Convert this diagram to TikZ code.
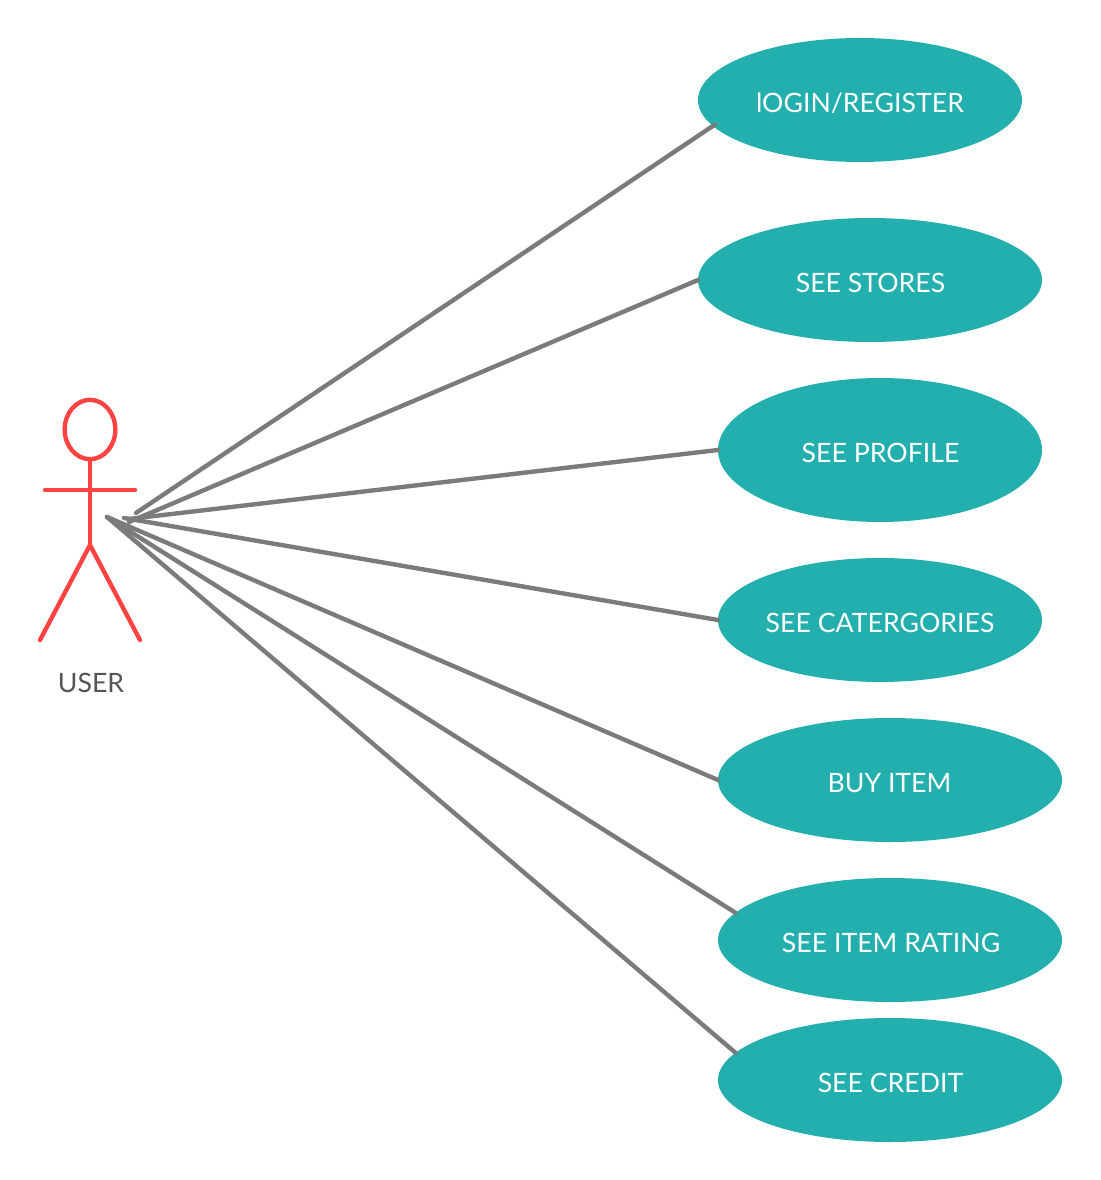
\documentclass[tikz,border=0pt]{standalone}
\usepackage{fontspec}
\setmainfont{Lato}
\usetikzlibrary{shapes.geometric}
\definecolor{teal1}{HTML}{23AFAE}
\definecolor{red1}{HTML}{FF4343}
\definecolor{gray1}{HTML}{7B7B7B}
\definecolor{txt1}{HTML}{555555}
\tikzset{
  usecase/.style={ellipse,fill=teal1,inner sep=0pt,outer sep=0pt},
  uclabel/.style={text=white,font=\fontsize{20pt}{24pt}\selectfont,inner sep=0pt},
  conn/.style={draw=gray1,line width=3.3pt,line cap=round},
  limb/.style={draw=red1,line width=3.3pt,line cap=round,line join=round}
}
\begin{document}
\begin{tikzpicture}[x=0.75pt,y=-0.75pt]
\useasboundingbox (0,0) rectangle (1100,1180);
\node[usecase,minimum width=243pt,minimum height=93pt] (login) at (860,100) {};
\node[usecase,minimum width=258pt,minimum height=93pt] (stores) at (870,280) {};
\node[usecase,minimum width=243pt,minimum height=108pt] (profile) at (880,450) {};
\node[usecase,minimum width=243pt,minimum height=93pt] (cat) at (880,620) {};
\node[usecase,minimum width=258pt,minimum height=93pt] (buy) at (890,780) {};
\node[usecase,minimum width=258pt,minimum height=93pt] (rating) at (890,940) {};
\node[usecase,minimum width=258pt,minimum height=93pt] (credit) at (890,1080) {};
\node[uclabel] (tlogin) at (860,103) {lOGIN/REGISTER};
\node[uclabel] (tstores) at (870.5,283) {SEE STORES};
\node[uclabel] (tprofile) at (880.5,453) {SEE PROFILE};
\node[uclabel] (tcat) at (880,623) {SEE CATERGORIES};
\node[uclabel] (tbuy) at (889.5,783) {BUY ITEM};
\node[uclabel] (trating) at (891,943) {SEE ITEM RATING};
\node[uclabel] (tcredit) at (890.5,1083) {SEE CREDIT};
% actor
\node[draw=red1,line width=3.3pt,ellipse,minimum width=38pt,minimum height=44.5pt,inner sep=0pt] (head) at (90,429.5) {};
\coordinate (armL) at (45,490);
\coordinate (armR) at (135,490);
\coordinate (hip) at (90,545);
\coordinate (legL) at (40,640);
\coordinate (legR) at (140,640);
\draw[limb] (head.south) -- (hip);
\draw[limb] (armL) -- (armR);
\draw[limb] (legL) -- (hip) -- (legR);
\node[text=txt1,font=\fontsize{20pt}{24pt}\selectfont,inner sep=0pt] (user) at (91,683) {USER};
% connector ends at the actor
\coordinate (a1) at (136,513);
\coordinate (a2) at (129,522);
\coordinate (a3) at (129,519);
\coordinate (a4) at (124,518);
\coordinate (a5) at (107,517);
\draw[conn,shorten >=-2pt] (a1) -- (login.190);
\draw[conn] (a2) -- (stores.west);
\draw[conn] (a3) -- (profile.west);
\draw[conn] (a4) -- (cat.west);
\draw[conn] (a5) -- (buy.west);
\draw[conn] (a5) -- (rating.170);
\draw[conn] (a5) -- (credit.170);
\end{tikzpicture}
\end{document}
